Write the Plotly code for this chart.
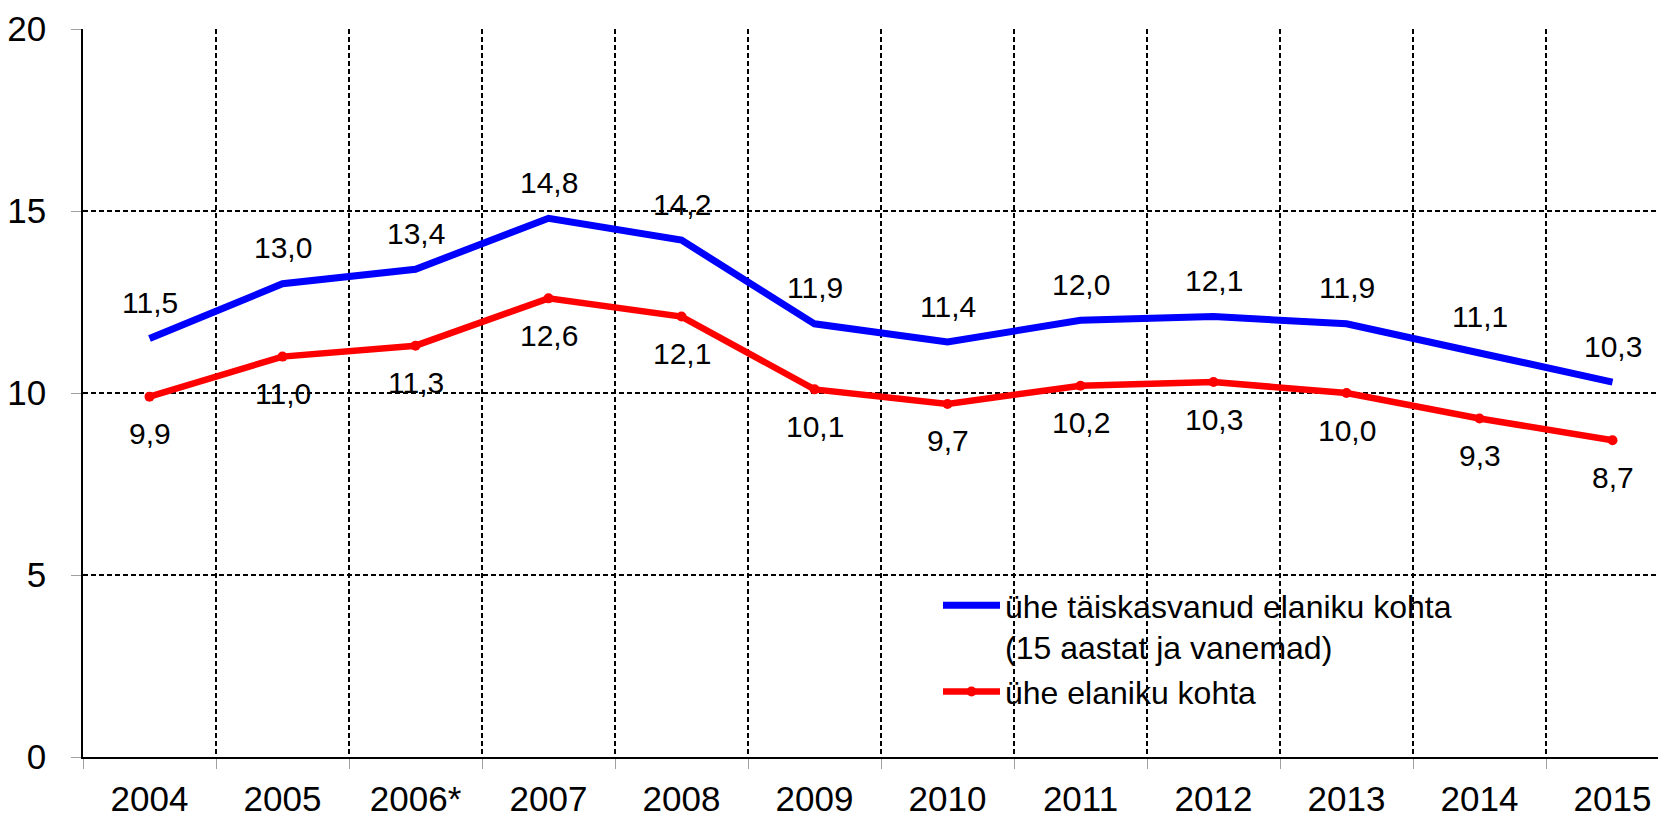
import plotly.graph_objects as go

years = ["2004", "2005", "2006*", "2007", "2008", "2009", "2010", "2011", "2012", "2013", "2014", "2015"]
adult = [11.5, 13.0, 13.4, 14.8, 14.2, 11.9, 11.4, 12.0, 12.1, 11.9, 11.1, 10.3]
total = [9.9, 11.0, 11.3, 12.6, 12.1, 10.1, 9.7, 10.2, 10.3, 10.0, 9.3, 8.7]
name_adult = "ühe täiskasvanud elaniku kohta<br>(15 aastat ja vanemad)"
name_total = "ühe elaniku kohta"
y_ticks = [0, 5, 10, 15, 20]

FONT = "Liberation Sans, Arial, sans-serif"

# page body adds an 8px offset; compensate in margins
OFF = 8
W, H = 1666, 815
# target plot area in screen pixels
SL, ST, SR, SB = 83, 29, 1666, 757
ML, MT = SL - OFF, ST - OFF
MR = W - (SR - OFF)
MB = H - (SB - OFF)
PW = W - ML - MR
PH = H - MT - MB
CAT_W = 133.0

def fmt(v):
    return f"{v:.1f}".replace(".", ",")

fig = go.Figure()
fig.add_trace(go.Scatter(
    x=years, y=adult, name=name_adult, mode="lines",
    line=dict(color="#0000FF", width=7),
))
fig.add_trace(go.Scatter(
    x=years, y=total, name=name_total, mode="lines+markers",
    line=dict(color="#FF0000", width=6.5),
    marker=dict(color="#FF0000", size=10),
))

annotations = []
for i, yv in enumerate(adult):
    annotations.append(dict(x=i, y=yv, text=fmt(yv), showarrow=False,
                            xref="x", yref="y", yshift=36,
                            font=dict(family=FONT, size=30, color="black")))
for i, yv in enumerate(total):
    annotations.append(dict(x=i, y=yv, text=fmt(yv), showarrow=False,
                            xref="x", yref="y", yshift=-37,
                            font=dict(family=FONT, size=30, color="black")))

def px_x(p):  # screen px -> paper
    return (p - SL) / PW

def px_y(p):
    return (SB - p) / PH

shapes = [dict(type="rect", xref="paper", yref="paper",
               x0=px_x(862), x1=1.0, y0=px_y(721), y1=px_y(582),
               fillcolor="white", line=dict(width=0), layer="between")]

fig.update_layout(
    width=W, height=H,
    margin=dict(l=ML, r=MR, t=MT, b=MB, pad=0, autoexpand=False),
    paper_bgcolor="white", plot_bgcolor="white",
    font=dict(family=FONT, color="black"),
    showlegend=True,
    legend=dict(
        x=px_x(938), y=px_y(578), xanchor="left", yanchor="top",
        font=dict(family=FONT, size=32, color="black"),
        bgcolor="rgba(0,0,0,0)", valign="top", tracegroupgap=0,
        itemwidth=57,
    ),
    annotations=annotations,
    shapes=shapes,
)
fig.update_xaxes(
    type="category", range=[-0.5, -0.5 + PW / CAT_W], automargin=False,
    tickson="boundaries", ticks="outside", ticklen=10, tickcolor="#a0a0a0",
    tickfont=dict(family=FONT, size=35, color="black"),
    ticklabelstandoff=10,
    showline=True, linecolor="black", linewidth=1.5,
    showgrid=True, gridcolor="black", gridwidth=1.5, griddash="5px,3px",
)
fig.update_yaxes(
    range=[0, 20], tickvals=y_ticks, ticktext=[str(v) for v in y_ticks],
    automargin=False,
    ticks="outside", ticklen=10, tickcolor="#a0a0a0",
    tickfont=dict(family=FONT, size=35, color="black"),
    ticklabelstandoff=18,
    showline=True, linecolor="black", linewidth=1.5, zeroline=False,
    showgrid=True, gridcolor="black", gridwidth=1.5, griddash="5px,3px",
)

fig.write_html("out.html")
